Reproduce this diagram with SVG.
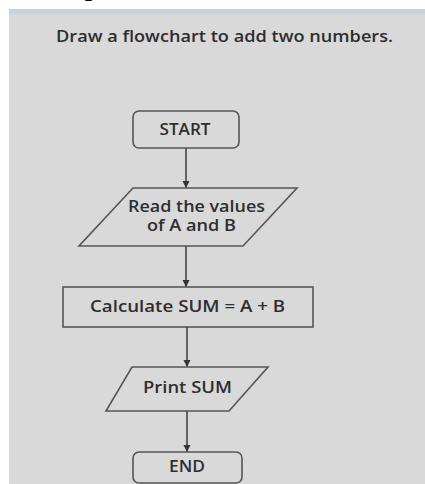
<svg xmlns="http://www.w3.org/2000/svg" width="425" height="484" viewBox="0 0 425 484">
  <style>
    .shape { fill: #d9d9d9; stroke: #555555; stroke-width: 1.6; }
    .label { font-family: "Open Sans", "Liberation Sans", sans-serif; font-size: 16px; fill: #2e2e2e; text-anchor: middle; font-weight: 600; }
    .title { font-family: "Open Sans", "Liberation Sans", sans-serif; font-size: 16px; fill: #2e2e2e; text-anchor: middle; font-weight: 600; }
    .link { stroke: #444444; stroke-width: 1.6; fill: none; marker-end: url(#arrow); }
  </style>
  <defs>
    <marker id="arrow" viewBox="0 0 8 8" refX="8" refY="4" markerWidth="4.5" markerHeight="4.5" orient="auto" markerUnits="strokeWidth">
      <path d="M0,0 L8,4 L0,8 Z" fill="#333333"/>
    </marker>
  </defs>

  <!-- page background -->
  <rect x="0" y="0" width="425" height="484" fill="#ffffff"/>
  <text x="92" y="-4" font-family="'Liberation Serif', serif" font-size="26" font-weight="700" text-anchor="middle" fill="#000000">p</text>
  <rect x="9" y="9" width="416" height="475" fill="#d9d9d9"/>
  <rect x="9" y="9" width="416" height="5" fill="#c6d1e1"/>

  <text class="title" x="224.5" y="42" textLength="337" lengthAdjust="spacingAndGlyphs">Draw a flowchart to add two numbers.</text>

  <!-- connectors -->
  <g id="connectors">
    <line class="link" x1="186" y1="148" x2="186" y2="188"/>
    <line class="link" x1="186" y1="246" x2="186" y2="287"/>
    <line class="link" x1="187" y1="327" x2="187" y2="367"/>
    <line class="link" x1="187" y1="411" x2="187" y2="452"/>
  </g>

  <g id="start">
    <rect class="shape" x="133" y="111" width="106" height="37" rx="6"/>
    <text class="label" x="185" y="135" textLength="51" lengthAdjust="spacingAndGlyphs">START</text>
  </g>

  <g id="read">
    <polygon class="shape" points="133,188 297,188 243,246 79,246"/>
    <text class="label" x="196.5" y="212" textLength="137" lengthAdjust="spacingAndGlyphs">Read the values</text>
    <text class="label" x="191.5" y="231" textLength="89" lengthAdjust="spacingAndGlyphs">of A and B</text>
  </g>

  <g id="calculate">
    <rect class="shape" x="63" y="287" width="250" height="40"/>
    <text class="label" x="187.5" y="312" textLength="195" lengthAdjust="spacingAndGlyphs">Calculate SUM = A + B</text>
  </g>

  <g id="print">
    <polygon class="shape" points="132,367 268,367 229,411 106,411"/>
    <text class="label" x="187.5" y="393" textLength="89" lengthAdjust="spacingAndGlyphs">Print SUM</text>
  </g>

  <g id="end">
    <rect class="shape" x="133" y="452" width="109" height="31" rx="6"/>
    <text class="label" x="187" y="472" textLength="36" lengthAdjust="spacingAndGlyphs">END</text>
  </g>
</svg>
